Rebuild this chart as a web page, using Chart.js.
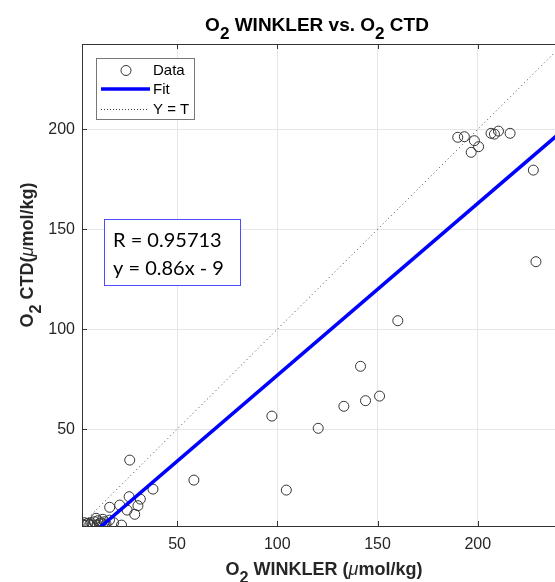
<!DOCTYPE html>
<html>
<head>
<meta charset="utf-8">
<title>O2 Winkler vs. O2 CTD</title>
<script src="https://cdn.jsdelivr.net/npm/chart.js@4/dist/chart.umd.min.js"></script>
<style>
  html, body { margin: 0; padding: 0; background: #fff; overflow: hidden; }
  canvas { display: block; }
</style>
</head>
<body>
<canvas id="myChart" width="555" height="582"></canvas>
<script>
// bottle (Winkler) oxygen vs. sensor (CTD) oxygen, umol/kg
var winklerO2 = [
  190.0, 193.3, 198.3, 200.4, 196.7, 206.6, 208.3, 210.3, 216.1, 227.7, 229.0,
  160.1, 141.5, 151.0, 144.0, 133.2, 97.3, 120.4, 104.5, 58.4,
  26.4, 38.0, 31.7, 26.1, 21.4, 16.4, 30.5, 25.1, 28.9, 22.3,
  3.1, 3.8, 5.5, 7.1, 8.0, 8.8, 9.6, 10.0, 10.5, 12.1, 13.0, 13.8, 14.6, 16.3, 18.4, 4.5, 6.5, 11.2
];
var ctdO2 = [
  196.0, 196.3, 194.3, 191.3, 188.5, 198.0, 197.6, 199.1, 198.0, 179.6, 133.8,
  104.3, 81.5, 66.6, 64.3, 61.5, 56.6, 50.5, 19.6, 24.6,
  34.6, 20.1, 15.1, 16.3, 12.1, 11.0, 11.8, 9.6, 7.5, 2.1,
  2.5, 3.3, 3.0, 3.3, 2.1, 3.8, 5.5, 2.1, 4.3, 3.3, 5.0, 3.8, 2.6, 4.6, 3.3, 2.0, 2.4, 2.8
];
var xTicks = [50, 100, 150, 200];
var yTicks = [50, 100, 150, 200];
var xLimits = [2.6, 238.5];
var yLimits = [1.65, 242.65];

// linear fit of CTD on Winkler
var fitSlope = 0.86;
var fitIntercept = -9;
var fitR = 0.95713;
var lineSpan = [0, 250];

var FONT = '"Liberation Sans", Arial, sans-serif';

var scatterPoints = winklerO2.map(function (x, i) {
  return { x: x, y: ctdO2[i] };
});
var fitPoints = lineSpan.map(function (x) {
  return { x: x, y: fitSlope * x + fitIntercept };
});
var identityPoints = lineSpan.map(function (x) {
  return { x: x, y: x };
});

function partFont(p, size) {
  var s = p.sub ? size * 0.9 : size;
  return (p.italic ? "italic " : "") + (p.bold ? "bold " : "") + s + "px " + FONT;
}

// draws a row of text pieces, some of them as subscripts
function drawRich(ctx, parts, x, y, size, align) {
  var total = 0;
  parts.forEach(function (p) {
    ctx.font = partFont(p, size);
    p.w = ctx.measureText(p.t).width;
    total += p.w;
  });
  var cx = align === "center" ? x - total / 2 : x;
  ctx.textAlign = "left";
  ctx.textBaseline = "alphabetic";
  parts.forEach(function (p) {
    ctx.font = partFont(p, size);
    ctx.fillText(p.t, cx, y + (p.sub ? size * 0.42 : 0));
    cx += p.w;
  });
}

function strokeLine(ctx, x1, y1, x2, y2) {
  ctx.beginPath();
  ctx.moveTo(x1, y1);
  ctx.lineTo(x2, y2);
  ctx.stroke();
}

var decorations = {
  id: "decorations",
  afterDraw: function (chart) {
    var ctx = chart.ctx;
    var a = chart.chartArea;
    var xs = chart.scales.x;
    var ys = chart.scales.y;
    ctx.save();

    // top frame and inward tick marks
    ctx.strokeStyle = "#333";
    ctx.lineWidth = 1;
    strokeLine(ctx, a.left, a.top + 0.5, a.right, a.top + 0.5);
    xTicks.forEach(function (v) {
      var px = Math.round(xs.getPixelForValue(v)) + 0.5;
      strokeLine(ctx, px, a.bottom, px, a.bottom - 5);
      strokeLine(ctx, px, a.top, px, a.top + 5);
    });
    yTicks.forEach(function (v) {
      var py = Math.round(ys.getPixelForValue(v)) + 0.5;
      strokeLine(ctx, a.left, py, a.left + 5, py);
    });

    // title and axis labels
    ctx.fillStyle = "#000";
    drawRich(ctx, [
      { t: "O", bold: true }, { t: "2", bold: true, sub: true },
      { t: " WINKLER vs. O", bold: true }, { t: "2", bold: true, sub: true },
      { t: " CTD", bold: true }
    ], 317, 31, 19, "center");

    ctx.fillStyle = "#262626";
    drawRich(ctx, [
      { t: "O", bold: true }, { t: "2", bold: true, sub: true },
      { t: " WINKLER (", bold: true }, { t: "\u03bc", italic: true },
      { t: "mol/kg)", bold: true }
    ], 324, 575, 18, "center");

    ctx.save();
    ctx.translate(33, 255);
    ctx.rotate(-Math.PI / 2);
    drawRich(ctx, [
      { t: "O", bold: true }, { t: "2", bold: true, sub: true },
      { t: " CTD(", bold: true }, { t: "\u03bc", italic: true },
      { t: "mol/kg)", bold: true }
    ], 0, 0, 18, "center");
    ctx.restore();

    // legend
    ctx.fillStyle = "#fff";
    ctx.fillRect(96, 58, 99, 62);
    ctx.strokeStyle = "#777";
    ctx.lineWidth = 1;
    ctx.strokeRect(96.5, 58.5, 98, 61);

    ctx.strokeStyle = "#333";
    ctx.beginPath();
    ctx.arc(126, 70.5, 5, 0, Math.PI * 2);
    ctx.stroke();

    ctx.strokeStyle = "#0000ff";
    ctx.lineWidth = 3.5;
    strokeLine(ctx, 101, 89, 150, 89);

    ctx.strokeStyle = "#444";
    ctx.lineWidth = 1;
    ctx.setLineDash([1, 2]);
    strokeLine(ctx, 101, 109.5, 149, 109.5);
    ctx.setLineDash([]);

    ctx.fillStyle = "#000";
    ctx.font = "15px " + FONT;
    ctx.textAlign = "left";
    ctx.textBaseline = "middle";
    ctx.fillText("Data", 153, 71);
    ctx.fillText("Fit", 153, 90);
    ctx.fillText("Y = T", 153, 110);

    // fit statistics box
    ctx.fillStyle = "#fff";
    ctx.fillRect(104, 219, 137, 67);
    ctx.strokeStyle = "#4d4dff";
    ctx.strokeRect(104.5, 219.5, 136, 66);
    ctx.fillStyle = "#000";
    ctx.font = "20px Lato, \"Open Sans\", sans-serif";
    ctx.textBaseline = "alphabetic";
    ctx.fillText("R = " + fitR, 113, 247);
    var sign = fitIntercept < 0 ? " - " : " + ";
    ctx.fillText("y = " + fitSlope + "x" + sign + Math.abs(fitIntercept), 113, 275);

    ctx.restore();
  }
};

var ctx = document.getElementById("myChart").getContext("2d");
var myChart = new Chart(ctx, {
  type: "scatter",
  data: {
    datasets: [
      {
        label: "Data",
        data: scatterPoints,
        pointRadius: 5,
        pointBorderWidth: 1,
        pointBorderColor: "#333",
        pointBackgroundColor: "rgba(0,0,0,0)",
        order: 1,
      },
      {
        label: "Fit",
        data: fitPoints,
        showLine: true,
        borderColor: "#0000ff",
        borderWidth: 3.5,
        pointRadius: 0,
        order: 0,
      },
      {
        label: "Y = T",
        data: identityPoints,
        showLine: true,
        borderColor: "#444",
        borderWidth: 1,
        borderDash: [1, 3],
        pointRadius: 0,
        order: 2,
      },
    ],
  },
  options: {
    responsive: false,
    animation: false,
    devicePixelRatio: 1,
    layout: {
      autoPadding: false,
      padding: { top: 44, left: 0, right: 0, bottom: 0 },
    },
    plugins: {
      legend: { display: false },
      tooltip: { enabled: false },
      title: { display: false },
    },
    scales: {
      x: {
        type: "linear",
        min: xLimits[0],
        max: xLimits[1],
        afterBuildTicks: function (scale) {
          scale.ticks = xTicks.map(function (v) { return { value: v }; });
        },
        afterFit: function (scale) {
          scale.height = 56;
          scale.paddingLeft = 0;
          scale.paddingRight = 0;
        },
        grid: { color: "#e6e6e6", drawTicks: false },
        border: { display: true, color: "#333", width: 1 },
        ticks: {
          color: "#262626",
          font: { family: FONT, size: 16 },
          padding: 9,
          maxRotation: 0,
          autoSkip: false,
        },
      },
      y: {
        type: "linear",
        min: yLimits[0],
        max: yLimits[1],
        afterBuildTicks: function (scale) {
          scale.ticks = yTicks.map(function (v) { return { value: v }; });
        },
        afterFit: function (scale) {
          scale.width = 82;
          scale.paddingTop = 0;
          scale.paddingBottom = 0;
        },
        grid: { color: "#e6e6e6", drawTicks: false },
        border: { display: true, color: "#333", width: 1 },
        ticks: {
          color: "#262626",
          font: { family: FONT, size: 16 },
          padding: 7,
          autoSkip: false,
        },
      },
    },
  },
  plugins: [decorations],
});
</script>
</body>
</html>
